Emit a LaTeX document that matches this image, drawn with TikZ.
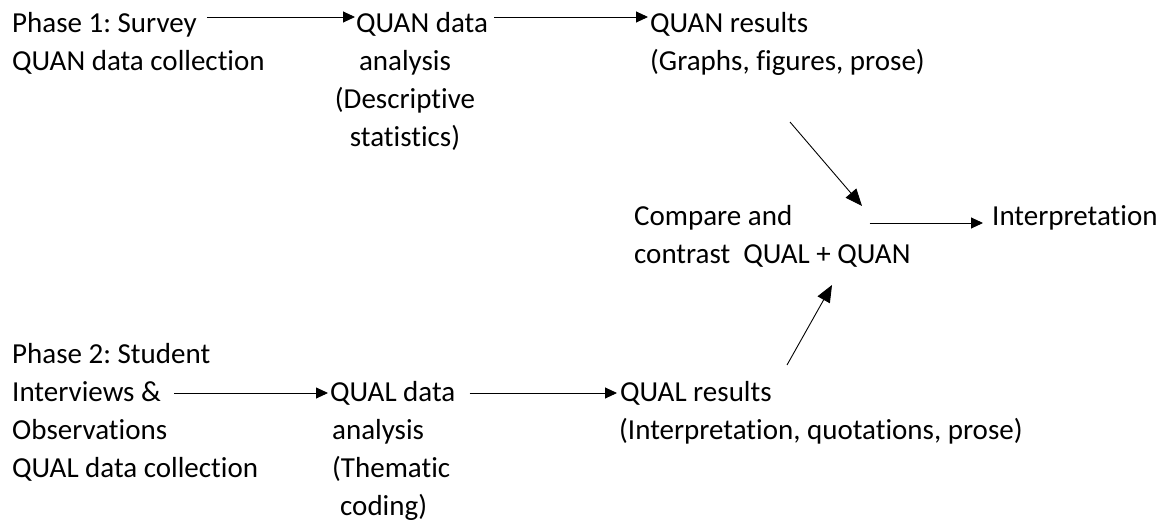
\documentclass[tikz,border=0pt]{standalone}
\usepackage{fontspec}
\setmainfont[Ligatures=NoCommon]{Carlito}
\usetikzlibrary{arrows.meta}
\frenchspacing
\begin{document}
\begin{tikzpicture}[x=1pt,y=-1pt,
  txt/.style={inner sep=0pt, anchor=base west, font=\fontsize{29}{38}\selectfont},
  link/.style={-{Triangle[length=12pt,width=11pt]}, line width=0.9pt},
  biglink/.style={-{Triangle[length=17pt,width=14pt]}, line width=0.9pt}]
\fill[white] (0,0) rectangle (1167,524);
\useasboundingbox (0,0) rectangle (1167,524);

% quantitative strand
\node[txt] (p1) at (12,33) {Phase 1: Survey};
\node[txt] (p1b) at (12,71) {QUAN data collection};
\node[txt] (qna) at (356,33) {QUAN data};
\node[txt, anchor=base] (qnab) at (405,71)
  {\begin{tabular}[t]{@{}c@{}}analysis\\(Descriptive\\statistics)\end{tabular}};
\node[txt] (qnr) at (650,33) {QUAN results};
\node[txt] (qnrb) at (650,71) {(Graphs, figures, prose)};

% merging step
\node[txt] (cmp) at (634,225) {Compare and};
\node[txt] (cmpb) at (634,263) {contrast\ \ QUAL + QUAN};
\node[txt] (interp) at (992,225) {Interpretation};

% qualitative strand
\node[txt] (p2) at (12,363) {Phase 2: Student};
\node[txt] (p2a) at (12,401) {Interviews \&};
\node[txt] (p2b) at (12,439)
  {\begin{tabular}[t]{@{}l@{}}Observations\\QUAL data collection\end{tabular}};
\node[txt] (qla) at (330,401) {QUAL data};
\node[txt] (qlab) at (332,439)
  {\begin{tabular}[t]{@{}l@{}}analysis\\(Thematic\\\hspace*{8pt}coding)\end{tabular}};
\node[txt] (qlr) at (620,401) {QUAL results};
\node[txt] (qlrb) at (619,439) {(Interpretation, quotations, prose)};

% free ends of the slanted arrows
\coordinate (qnfoot) at (790,122);
\coordinate (cmptop) at (862,206);
\coordinate (qlhead) at (787,365);
\coordinate (cmpfoot) at (832,285);

\draw[link, shorten <=10pt, shorten >=1pt]
  ([yshift=16pt]p1.base east) -- ([yshift=16pt]qna.base west);
\draw[link, shorten <=6pt, shorten >=2pt]
  ([yshift=16pt]qna.base east) -- ([yshift=16pt]qnr.base west);
\draw[biglink] (qnfoot) -- (cmptop);
\draw[biglink] (qlhead) -- (cmpfoot);
\draw[link, shorten <=77pt, shorten >=9pt]
  ([yshift=2pt]cmp.base east) -- ([yshift=2pt]interp.base west);
\draw[link, shorten <=13pt, shorten >=2pt]
  ([yshift=8pt]p2a.base east) -- ([yshift=8pt]qla.base west);
\draw[link, shorten <=14pt, shorten >=3pt]
  ([yshift=8pt]qla.base east) -- ([yshift=8pt]qlr.base west);
\end{tikzpicture}
\end{document}
